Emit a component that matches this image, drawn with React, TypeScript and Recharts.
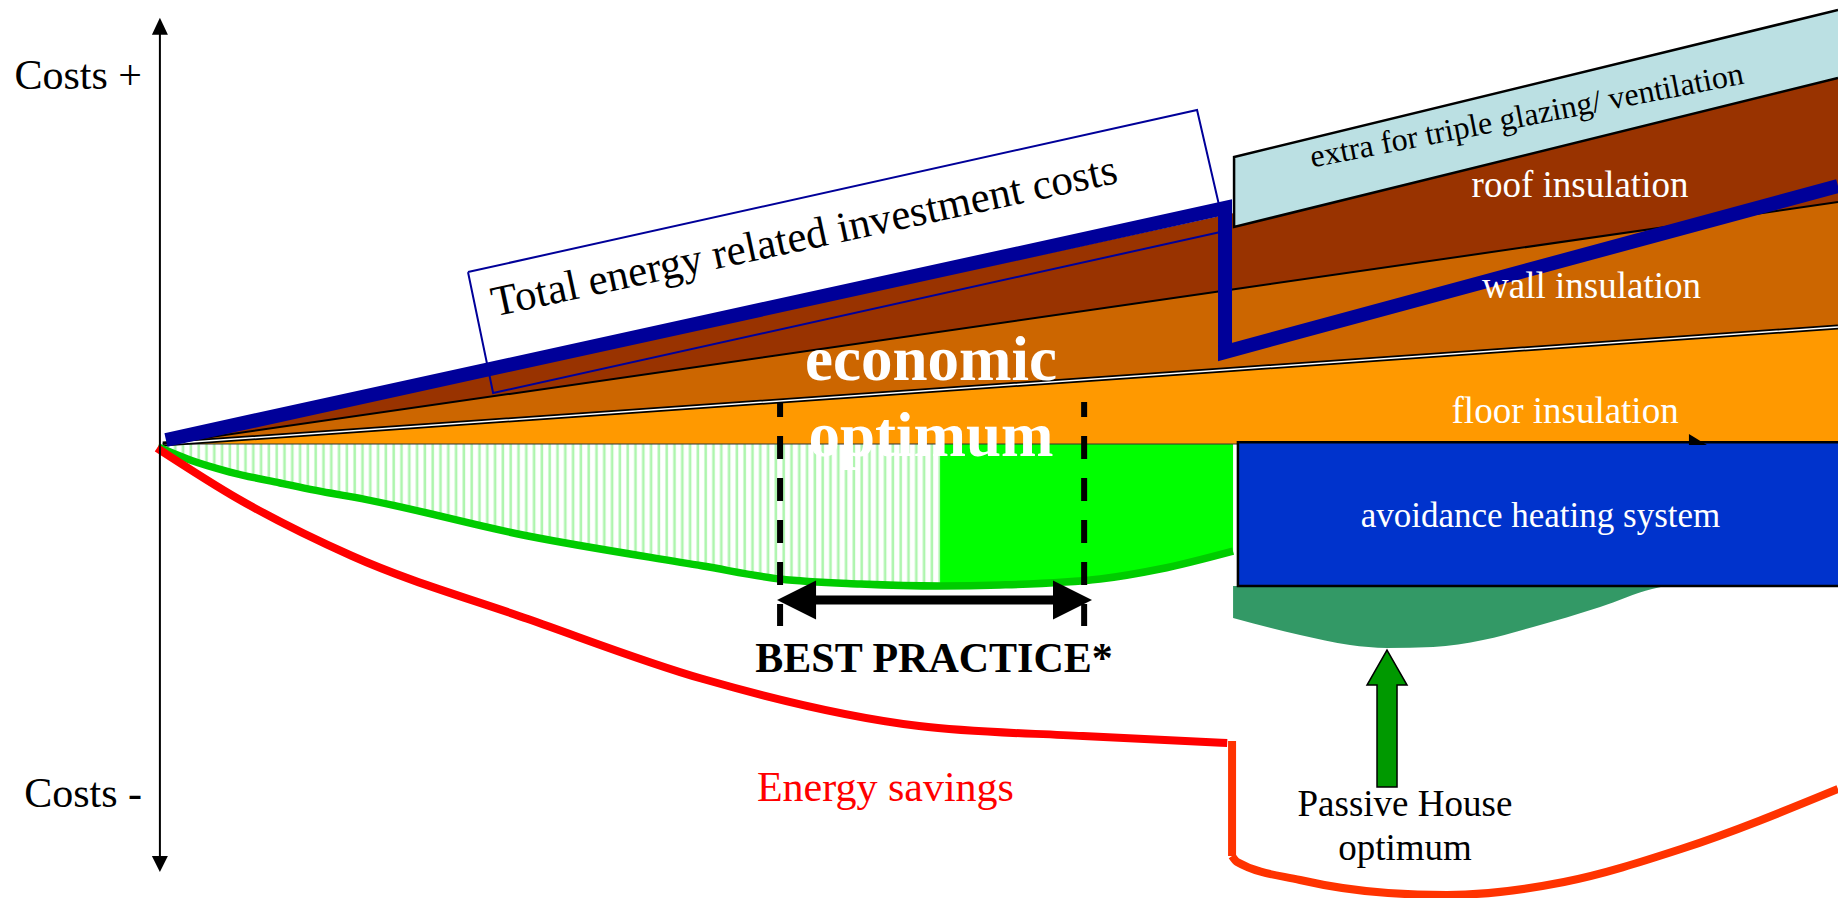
import React from 'react';
import { ComposedChart, Area, Line, XAxis, YAxis, ReferenceLine, ReferenceDot } from 'recharts';

const FONT = "'Liberation Serif', 'Times New Roman', Times, serif";

// stacked investment bands (cost units, x = insulation level 0..100)
const bandX = [0, 63.95, 100];
const floorTop = [0, 16.85, 26.35];
const wallTop = [0, 34.85, 54.5];
const roofX = [0, 63.95, 63.95, 100];
const roofLow = [0, 34.85, 34.85, 54.5];
const roofTop = [0, 52.0, 48.87, 82.43];
const extraX = [63.95, 100];
const extraLow = [48.87, 82.43];
const extraTop = [64.64, 97.75];

// total energy related investment (thick navy line)
const investX = [0.19, 63.41, 63.41, 100];
const investY = [0.9, 53.15, 20.72, 58.11];

// frame around the "Total energy related investment costs" caption
const frameX = [18.22, 61.74, 63.41, 19.72, 18.22];
const frameY = [38.74, 75.23, 47.97, 11.49, 38.74];

// total cost curve (green)
const totalX = [-0.28, 1.63, 4.01, 7.0, 9.98, 11.3, 21.8, 32.25, 36.85, 41.63, 46.4, 49.98, 55.95, 59.53, 63.89];
const totalY = [-0.68, -3.6, -6.31, -8.78, -11.04, -11.9, -20.72, -27.48, -30.41, -31.53, -31.98, -31.76, -30.41, -28.15, -24.1];
const splitAt = 10;

// energy savings (red)
const savingX = [-0.34, 4.62, 11.3, 21.8, 32.25, 45.15, 54.93, 63.54];
const savingY = [-0.9, -12.6, -25.23, -39.41, -52.93, -63.51, -65.77, -67.34];
const stepX = [63.83, 63.83];
const stepY = [-66.9, -92.79];
const passiveX = [63.83, 64.13, 67.89, 73.14, 76.66, 83.64, 90.63, 100];
const passiveY = [-92.79, -94.14, -98.2, -101.13, -101.58, -98.65, -91.22, -77.7];

// avoided heating system and passive house dip
const boxX = [64.18, 100];
const boxLow = [-32, -32];
const boxTop = [0.4, 0.4];
const dipX = [63.89, 67.89, 70.87, 73.08, 75.83, 78.81, 81.8, 85.8, 88.9, 89.68];
const dipLow = [-39.19, -43.02, -45.27, -45.95, -45.72, -44.14, -41.22, -36.71, -32.66, -32.0];

const costTicks = [83.3, -78.4];
const costLabels = ['Costs +', 'Costs -'];

const pts = (xs: number[], ys: number[]) => xs.map((x, i) => ({ x, y: ys[i] }));
const band = (xs: number[], lo: number[], hi: number[]) => xs.map((x, i) => ({ x, y: [lo[i], hi[i]] }));

const floorData = band(bandX, bandX.map(() => 0), floorTop);
const wallData = band(bandX, floorTop, wallTop);
const roofData = band(roofX, roofLow, roofTop);
const extraData = band(extraX, extraLow, extraTop);
const hatchData = band(totalX.slice(0, splitAt + 1), totalY.slice(0, splitAt + 1), totalX.slice(0, splitAt + 1).map(() => 0));
const solidData = band(totalX.slice(splitAt), totalY.slice(splitAt), totalX.slice(splitAt).map(() => 0));
const boxData = band(boxX, boxLow, boxTop);
const dipData = band(dipX, dipLow, dipX.map(() => -32));

const extraEdge = pts([100, 63.95, 63.95, 100], [82.43, 48.87, 64.64, 97.75]);
const boxEdge = pts([100, 64.18, 64.18, 100], [0.4, 0.4, -32, -32]);

function note(text: string, opts: { size?: number; fill?: string; weight?: string; angle?: number } = {}) {
  const { size = 37, fill = '#fff', weight = 'normal', angle = 0 } = opts;
  return (p: any) => (
    <text
      x={p.cx}
      y={p.cy}
      textAnchor="middle"
      fontFamily={FONT}
      fontSize={size}
      fontWeight={weight}
      fill={fill}
      transform={angle ? `rotate(${angle} ${p.cx} ${p.cy})` : undefined}
    >
      {text}
    </text>
  );
}

const costTick = (p: any) => (
  <text x={p.x} y={p.y} dy="0.355em" textAnchor="end" fontFamily={FONT} fontSize={42} fill="#000">
    {costLabels[costTicks.indexOf(p.payload.value)] ?? ''}
  </text>
);

const axisShape = (p: any) => (
  <g>
    <line x1={p.x1} y1={p.y1 + 14} x2={p.x2} y2={p.y2 - 14} stroke="#000" strokeWidth={2} />
    <polygon points={`${p.x1},${p.y1} ${p.x1 - 8},${p.y1 + 17} ${p.x1 + 8},${p.y1 + 17}`} fill="#000" />
    <polygon points={`${p.x2},${p.y2} ${p.x2 - 8},${p.y2 - 16} ${p.x2 + 8},${p.y2 - 16}`} fill="#000" />
  </g>
);

const spanShape = (p: any) => {
  const h = 39;
  const w = 19.5;
  return (
    <g>
      <line x1={p.x1 + h - 2} y1={p.y1} x2={p.x2 - h + 2} y2={p.y2} stroke="#000" strokeWidth={9} />
      <polygon points={`${p.x1},${p.y1} ${p.x1 + h},${p.y1 - w} ${p.x1 + h},${p.y1 + w}`} fill="#000" />
      <polygon points={`${p.x2},${p.y2} ${p.x2 - h},${p.y2 - w} ${p.x2 - h},${p.y2 + w}`} fill="#000" />
    </g>
  );
};

const upArrowShape = (p: any) => {
  const x = p.x1;
  const t = p.y1;
  const b = p.y2;
  const poly = [
    [x, t], [x + 20, t + 35], [x + 10, t + 35], [x + 10, b],
    [x - 10, b], [x - 10, t + 35], [x - 20, t + 35],
  ].map((q) => q.join(',')).join(' ');
  return <polygon points={poly} fill="#009900" stroke="#000" strokeWidth={1.5} />;
};

const markShape = (p: any) => (
  <polygon points={`${p.cx - 9},${p.cy - 6} ${p.cx + 9},${p.cy + 5} ${p.cx - 9},${p.cy + 5}`} fill="#000" />
);

const area = { type: 'linear' as const, stroke: 'none', isAnimationActive: false, dot: false, activeDot: false };
const line = { type: 'linear' as const, isAnimationActive: false, dot: false, activeDot: false, fill: 'none' };

export default function App() {
  return (
    <div style={{ width: 1838, height: 898, background: '#fff' }}>
      <style>{'body{margin:0;overflow:hidden}'}</style>
      <ComposedChart width={1838} height={898} margin={{ top: 0, right: 0, bottom: 0, left: 0 }}>
        <defs>
          <pattern id="hatch" width="7.8" height="10" patternUnits="userSpaceOnUse">
            <rect width="7.8" height="10" fill="#fff" />
            <rect x="2.4" width="2.6" height="10" fill="#aef5ae" />
          </pattern>
        </defs>
        <XAxis type="number" dataKey="x" domain={[-1, 100]} hide allowDataOverflow />
        <YAxis
          type="number"
          domain={[-102.25, 100]}
          ticks={costTicks}
          interval={0}
          width={146}
          axisLine={false}
          tickLine={false}
          tickSize={0}
          tickMargin={4}
          tick={costTick}
          allowDataOverflow
        />

        <Area {...area} data={floorData} dataKey="y" fill="#FF9900" fillOpacity={1} />
        <Area {...area} data={wallData} dataKey="y" fill="#CC6600" fillOpacity={1} />
        <Area {...area} data={roofData} dataKey="y" fill="#993300" fillOpacity={1} />
        <Area {...area} data={extraData} dataKey="y" fill="#BBE0E3" fillOpacity={1} />
        <Area {...area} type="monotone" data={hatchData} dataKey="y" fill="url(#hatch)" fillOpacity={1} />
        <Area {...area} type="monotone" data={solidData} dataKey="y" fill="#00FF00" fillOpacity={1} />
        <Area {...area} type="monotone" data={dipData} dataKey="y" fill="#339966" fillOpacity={1} />
        <Area {...area} data={boxData} dataKey="y" fill="#0033CC" fillOpacity={1} />

        <Line {...line} data={pts([0, 64.18], [0, 0])} dataKey="y" stroke="#333" strokeWidth={1} />
        <Line {...line} data={pts(bandX, floorTop)} dataKey="y" stroke="#000" strokeWidth={5} />
        <Line {...line} data={pts(bandX, floorTop)} dataKey="y" stroke="#fff" strokeWidth={1.5} />
        <Line {...line} data={pts(bandX, wallTop)} dataKey="y" stroke="#000" strokeWidth={2} />
        <Line {...line} data={extraEdge} dataKey="y" stroke="#000" strokeWidth={2.5} />
        <Line {...line} data={boxEdge} dataKey="y" stroke="#000" strokeWidth={2.5} />
        <Line {...line} data={pts(frameX, frameY)} dataKey="y" stroke="#000099" strokeWidth={2} />
        <Line {...line} data={pts(investX, investY)} dataKey="y" stroke="#000099" strokeWidth={14} strokeLinejoin="miter" />
        <Line {...line} type="monotone" data={pts(totalX, totalY)} dataKey="y" stroke="#00CC00" strokeWidth={7.5} />
        <Line {...line} type="monotone" data={pts(savingX, savingY)} dataKey="y" stroke="#FF0000" strokeWidth={8} />
        <Line {...line} data={pts(stepX, stepY)} dataKey="y" stroke="#FF3300" strokeWidth={8} />
        <Line {...line} type="monotone" data={pts(passiveX, passiveY)} dataKey="y" stroke="#FF3300" strokeWidth={8} />

        <ReferenceLine segment={[{ x: -0.17, y: 96.0 }, { x: -0.17, y: -96.4 }]} shape={axisShape} />
        <ReferenceLine
          segment={[{ x: 36.85, y: 9.46 }, { x: 36.85, y: -40.99 }]}
          stroke="#000"
          strokeWidth={6}
          strokeDasharray="23 19"
          strokeDashoffset={8}
        />
        <ReferenceLine
          segment={[{ x: 55.0, y: 9.46 }, { x: 55.0, y: -40.99 }]}
          stroke="#000"
          strokeWidth={6}
          strokeDasharray="23 19"
          strokeDashoffset={8}
        />
        <ReferenceLine segment={[{ x: 36.67, y: -35.14 }, { x: 55.47, y: -35.14 }]} shape={spanShape} />
        <ReferenceLine segment={[{ x: 73.08, y: -46.4 }, { x: 73.08, y: -77.25 }]} shape={upArrowShape} />
        <ReferenceDot x={91.64} y={0.9} r={1} ifOverflow="visible" shape={markShape} />

        <ReferenceDot x={38.46} y={43.81} r={1} ifOverflow="visible" shape={note('Total energy related investment costs', { size: 43, fill: '#000', angle: -12.1 })} />
        <ReferenceDot x={81.53} y={71.73} r={1} ifOverflow="visible" shape={note('extra for triple glazing/ ventilation', { size: 32, fill: '#000', angle: -11 })} />
        <ReferenceDot x={84.6} y={55.63} r={1} ifOverflow="visible" shape={note('roof insulation')} />
        <ReferenceDot x={85.29} y={32.8} r={1} ifOverflow="visible" shape={note('wall insulation')} />
        <ReferenceDot x={83.71} y={4.73} r={1} ifOverflow="visible" shape={note('floor insulation')} />
        <ReferenceDot x={82.24} y={-18.69} r={1} ifOverflow="visible" shape={note('avoidance heating system', { size: 35 })} />
        <ReferenceDot x={45.86} y={14.41} r={1} ifOverflow="visible" shape={note('economic', { size: 63, weight: 'bold' })} />
        <ReferenceDot x={45.86} y={-2.7} r={1} ifOverflow="visible" shape={note('optimum', { size: 63, weight: 'bold' })} />
        <ReferenceDot x={46.04} y={-51.35} r={1} ifOverflow="visible" shape={note('BEST PRACTICE*', { size: 42, fill: '#000', weight: 'bold' })} />
        <ReferenceDot x={43.14} y={-80.41} r={1} ifOverflow="visible" shape={note('Energy savings', { size: 42, fill: '#FF0000' })} />
        <ReferenceDot x={74.15} y={-83.78} r={1} ifOverflow="visible" shape={note('Passive House', { fill: '#000' })} />
        <ReferenceDot x={74.15} y={-93.69} r={1} ifOverflow="visible" shape={note('optimum', { fill: '#000' })} />
      </ComposedChart>
    </div>
  );
}
